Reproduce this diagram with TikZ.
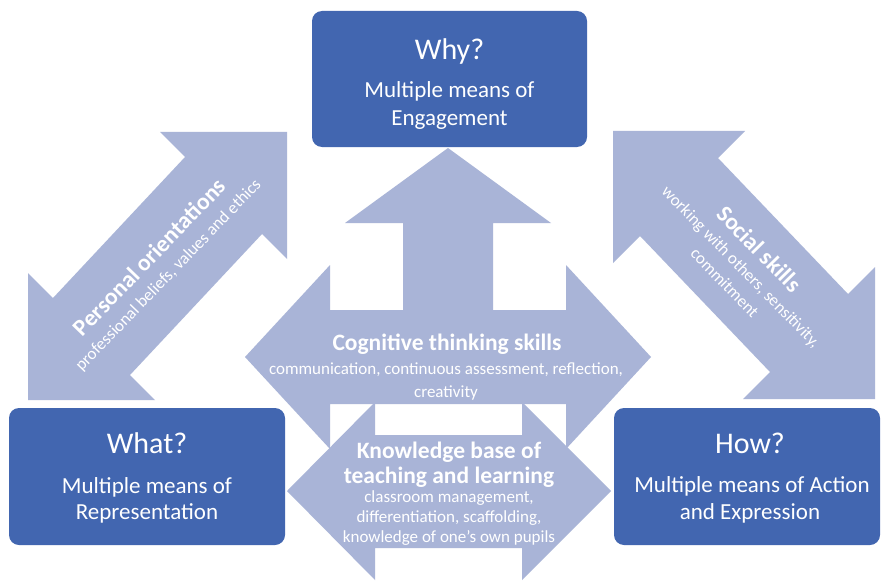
\documentclass[tikz,border=0pt]{standalone}
\usepackage{fontspec}
\setmainfont{Carlito}
\definecolor{boxblue}{HTML}{4266B0}
\definecolor{arrowlav}{HTML}{A9B4D7}
\begin{document}
\begin{tikzpicture}[x=1pt,y=-1pt,
  arr/.style={fill=arrowlav, draw=none},
  box/.style={fill=boxblue, draw=none, rounded corners=10pt, inner sep=0pt},
  wt/.style={text=white, inner sep=0pt, anchor=base},
  ttl/.style={wt, font=\fontsize{30}{36}\selectfont},
  bod/.style={wt, font=\fontsize{23}{27}\selectfont},
  hdb/.style={wt, font=\fontsize{23.5}{28}\selectfont\bfseries},
  sbb/.style={wt, font=\fontsize{17}{20}\selectfont},
  rottext/.style={text=white, inner sep=0pt, align=center, font=\fontsize{17}{23}\selectfont},
  hdfont/.style={font=\fontsize{23.5}{23}\selectfont\bfseries},
]
\useasboundingbox (0,0) rectangle (883,583);
\fill[white] (0,0) rectangle (883,583);

% personal orientations double arrow
\fill[arr] (287,132) -- (287,259) -- (262,234) -- (130,375) -- (155,400) -- (28,400)
  -- (28,273) -- (53,298) -- (185,157) -- (160,132) -- cycle;
% social skills double arrow
\fill[arr] (613,131) -- (745,131) -- (718,158) -- (848,294) -- (875,267) -- (875,399)
  -- (743,399) -- (770,372) -- (640,236) -- (613,263) -- cycle;
% cognitive thinking skills: left-right-up arrow
\fill[arr] (448,148) -- (551,223) -- (493,223) -- (493,310) -- (566,310) -- (566,265)
  -- (651,357) -- (566,449) -- (566,404) -- (330,404) -- (330,449) -- (245,357)
  -- (330,265) -- (330,310) -- (403,310) -- (403,223) -- (345,223) -- cycle;
% knowledge base: left-right arrow
\fill[arr] (287,491) -- (375,402) -- (375,435) -- (522,435) -- (522,402) -- (611,491)
  -- (522,580) -- (522,548) -- (375,548) -- (375,580) -- cycle;

% boxes
\node[box, minimum width=275, minimum height=136] (why) at (449.5,79) {};
\node[box, minimum width=276, minimum height=137] (what) at (147,476.5) {};
\node[box, minimum width=266, minimum height=137] (how) at (747,476.5) {};

% box texts
\node[ttl] (whyt) at (449.5,60) {Why?};
\node[bod] (whyb1) at (449.5,98) {Multiple means of};
\node[bod] (whyb2) at (449.5,125) {Engagement};
\node[ttl] (whatt) at (147,453) {What?};
\node[bod] (whatb1) at (147,493) {Multiple means of};
\node[bod] (whatb2) at (147,519) {Representation};
\node[ttl] (howt) at (750,453) {How?};
\node[bod] (howb1) at (752,492) {Multiple means of Action};
\node[bod] (howb2) at (750,519) {and Expression};

% cognitive text
\node[hdb] (cogh) at (447,350) {Cognitive thinking skills};
\node[sbb] (cogs1) at (446,374) {communication, continuous assessment, reflection,};
\node[sbb] (cogs2) at (446,397) {creativity};

% knowledge text
\node[hdb] (knh1) at (449,458) {Knowledge base of};
\node[hdb] (knh2) at (449,483) {teaching and learning};
\node[sbb] (kns1) at (449,502) {classroom management,};
\node[sbb] (kns2) at (449,522) {differentiation, scaffolding,};
\node[sbb] (kns3) at (449,542) {knowledge of one's own pupils};

% personal text
\node[rottext, rotate=46] (po) at (158.5,266)
  {{\fontsize{23.5}{23}\selectfont\bfseries Personal orientations}\\
   professional beliefs, values and ethics};

% social text
\node[rottext, rotate=-45.6] (ss) at (743,265)
  {{\fontsize{23.5}{23}\selectfont\bfseries Social skills}\\
   working with others, sensitivity,\\
   commitment};
\end{tikzpicture}
\end{document}
